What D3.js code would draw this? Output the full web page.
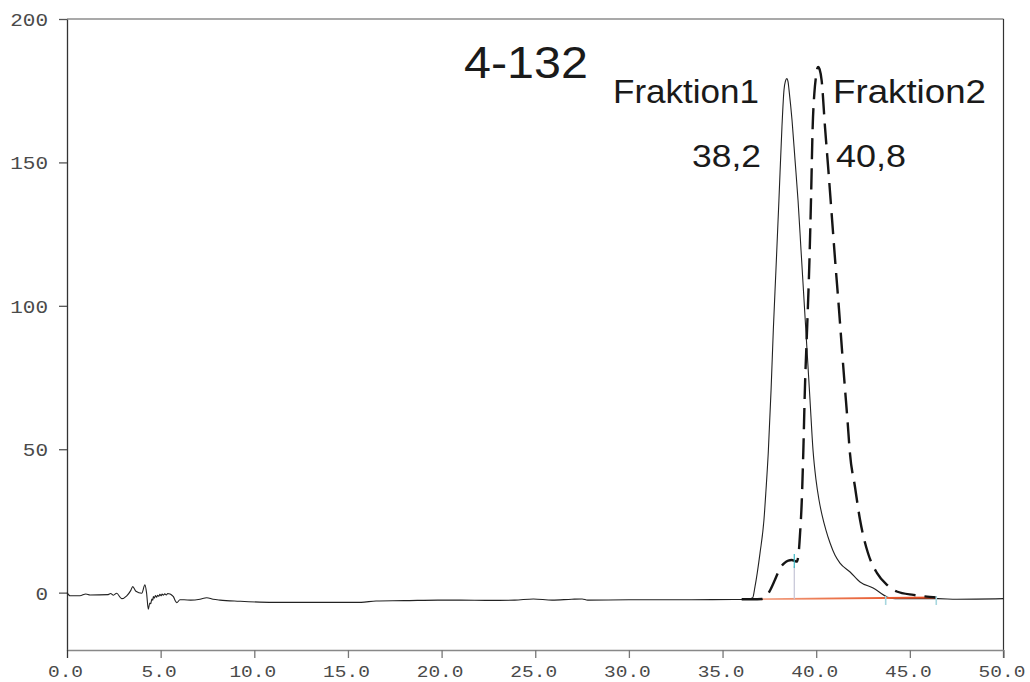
<!DOCTYPE html>
<html>
<head>
<meta charset="utf-8">
<script src="https://cdn.jsdelivr.net/npm/d3@7/dist/d3.min.js"></script>
<style>
  html, body { margin: 0; padding: 0; background: #fff; }
  svg { display: block; }
</style>
</head>
<body>
<svg id="chart" width="1030" height="682"></svg>
<script>
// Retention time axis (min) and detector signal axis
const xTicks = [0, 5, 10, 15, 20, 25, 30, 35, 40, 45, 50];
const yTicks = [0, 50, 100, 150, 200];

// Fraktion 1 (solid trace)
const f1Time = [0, 0.16, 0.69, 1.01, 1.23, 2.2, 2.33, 2.48, 2.65, 2.92, 3.19, 3.4, 3.51, 3.68, 3.99, 4.16, 4.25, 4.34,
  4.42, 4.47, 4.53, 4.58, 4.61, 4.66, 4.72, 4.78, 4.84, 4.9, 4.96, 5.02, 5.08, 5.14, 5.22, 5.3, 5.38, 5.5, 5.6, 5.68,
  5.78, 5.86, 6.03, 6.25, 6.6, 7.1, 7.46, 7.8, 8.17, 9.2, 11, 13, 15.7, 16.5, 18, 19.8, 21, 22.5, 23.9, 24.9, 25.9,
  26.95, 27.5, 27.8, 30, 33, 35.9, 36.3, 36.61, 36.73, 37.0, 37.21, 37.32, 37.44, 37.59, 37.71, 37.85, 38.01, 38.17,
  38.28, 38.36, 38.43, 38.5, 38.55, 38.71, 38.87, 39.03, 39.19, 39.35, 39.51, 39.67, 39.83, 39.99, 40.15, 40.31, 40.52,
  40.74, 41.0, 41.27, 41.81, 42.34, 43.04, 43.78, 43.94, 44.5, 46.5, 47.5, 50];
const f1Signal = [0, -1.1, -1.1, -0.45, -0.8, -0.7, -0.3, -0.9, -0.2, -2.1, -1.1, 0.7, 2.1, 0.5, -0.2, 2.7, -0.2, -5.8,
  -3.6, -3.9, -2.2, -2.6, -1.4, -1.9, -1.0, -1.6, -0.9, -1.3, -0.6, -1.1, -0.5, -0.9, -0.4, -0.8, -0.3, -0.5, -0.9, -1.4,
  -2.8, -3.5, -2.5, -2.5, -2.6, -2.3, -1.8, -2.3, -2.6, -3.0, -3.4, -3.4, -3.4, -2.9, -2.8, -2.6, -2.6, -2.7, -2.6, -2.2, -2.6,
  -2.3, -2.2, -2.6, -2.5, -2.5, -2.4, -2.4, -1.8, 2.0, 13.8, 25.3, 35.8, 48.7, 70.6, 91.5, 112.4, 136.8, 162.2,
  175.2, 178.4, 179.2, 178.0, 175.2, 164.7, 150.8, 136.8, 119.4, 102, 84.6, 67.1, 49.7, 39.3, 32.3, 27.1, 21.8,
  17.3, 13.1, 10.3, 7.2, 3.7, 1.6, -1.5, -1.9, -2.1, -2.1, -2.3, -2.1];

// Fraktion 2 (dashed trace)
const f2Time = [36.02, 36.6, 37.1, 37.3, 37.5, 37.8, 38.07, 38.3, 38.51, 38.69, 38.85, 38.96, 39.05, 39.14, 39.23,
  39.31, 39.4, 39.52, 39.64, 39.73, 39.81, 39.9, 39.98, 40.06, 40.11, 40.18, 40.29, 40.47, 40.65, 40.81, 41.01,
  41.22, 41.39, 41.53, 41.67, 41.8, 42.07, 42.34, 42.76, 43.24, 43.78, 44.3, 45.19, 45.8, 46.44];
const f2Signal = [-2.3, -2.3, -2.2, -1.5, 0.35, 4.5, 8.5, 10.3, 11.2, 11.4, 11.1, 10.8, 13, 20.8, 32,
  48.7, 71.8, 93, 116, 139, 162, 174, 179.5, 182.8, 183.3, 182.5, 178.6, 162.3, 147.3, 133.4, 115.9,
  98.5, 83.5, 71.7, 60.2, 48.7, 36.9, 25.4, 13.9, 6.9, 2.7, 0.4, -0.8, -1.3, -1.7];

// Integration baseline and peak-boundary markers
const baseTime = [37.05, 46.41];
const baseSignal = [-2.3, -1.7];
const splitMarker = { t: 38.83, top: 13.5, bottom: -2.3 };
const endMarkers = [43.71, 46.41];

// Annotations
const sampleLabel = "4-132";
const fractionNames = ["Fraktion1", "Fraktion2"];
const fractionTimes = ["38,2", "40,8"];

const svg = d3.select("#chart");
const x = d3.scaleLinear().domain([0, 50]).range([67, 1003.5]);
const y = d3.scaleLinear().domain([-20, 200]).range([650, 19]);

// Frame: top and right border
svg.append("line").attr("x1", x(0)).attr("x2", x(50)).attr("y1", y(200)).attr("y2", y(200))
  .attr("stroke", "#555").attr("stroke-width", 1.2);
svg.append("line").attr("x1", x(50)).attr("x2", x(50)).attr("y1", y(200)).attr("y2", y(-20) + 8)
  .attr("stroke", "#333").attr("stroke-width", 1.2);

// Y axis
const yAxis = svg.append("g").attr("transform", `translate(${x(0)},0)`)
  .call(d3.axisLeft(y).tickValues(yTicks).tickSize(8).tickPadding(11).tickSizeOuter(0));
yAxis.select(".domain").attr("stroke", "#333").attr("stroke-width", 1.3);
yAxis.selectAll(".tick line").attr("stroke", "#555").attr("stroke-width", 1.3);
yAxis.selectAll(".tick text")
  .attr("font-family", "'Liberation Mono', monospace").attr("font-size", 18).attr("fill", "#4a4a4a")
  .attr("dy", "0.36em")
  .attr("textLength", d => String(d).length * 12.6).attr("lengthAdjust", "spacingAndGlyphs");

// X axis
const xAxis = svg.append("g").attr("transform", `translate(0,${y(-20)})`)
  .call(d3.axisBottom(x).tickValues(xTicks).tickFormat(d3.format(".1f")).tickSize(8).tickSizeOuter(0));
xAxis.select(".domain").attr("stroke", "#888").attr("stroke-width", 1.6);
xAxis.selectAll(".tick line").attr("stroke", "#777").attr("stroke-width", 1.3);
xAxis.selectAll(".tick text")
  .attr("font-family", "'Liberation Mono', monospace").attr("font-size", 17).attr("fill", "#4a4a4a")
  .attr("y", 27).attr("dy", 0).attr("x", -2)
  .attr("textLength", d => d3.format(".1f")(d).length * 11.7).attr("lengthAdjust", "spacingAndGlyphs");
xAxis.select(".tick line").attr("stroke", "#333");

const line = d3.line().x(d => x(d[0])).y(d => y(d[1])).curve(d3.curveMonotoneX);

// Fraktion 1 trace
const f1 = f1Time.map((t, i) => [t, f1Signal[i]]);
svg.append("path").datum(f1)
  .attr("d", line)
  .attr("fill", "none").attr("stroke", "#222").attr("stroke-width", 1.1);

// Integration baseline
const grad = svg.append("defs").append("linearGradient").attr("id", "baseGrad")
  .attr("gradientUnits", "userSpaceOnUse")
  .attr("x1", x(baseTime[0])).attr("x2", x(baseTime[1])).attr("y1", 0).attr("y2", 0);
grad.append("stop").attr("offset", 0).attr("stop-color", "#f3a88e");
grad.append("stop").attr("offset", 0.35).attr("stop-color", "#ec7a52");
grad.append("stop").attr("offset", 1).attr("stop-color", "#e4461a");
svg.append("line")
  .attr("x1", x(baseTime[0])).attr("y1", y(baseSignal[0]))
  .attr("x2", x(baseTime[1])).attr("y2", y(baseSignal[1]))
  .attr("stroke", "url(#baseGrad)").attr("stroke-width", 1.8);

// Fraktion 2 trace
const f2 = f2Time.map((t, i) => [t, f2Signal[i]]);
svg.append("path").datum(f2)
  .attr("d", line)
  .attr("fill", "none").attr("stroke", "#151515").attr("stroke-width", 2.4)
  .attr("stroke-dasharray", "21,9");

// Peak boundary markers
svg.append("line")
  .attr("x1", x(splitMarker.t)).attr("x2", x(splitMarker.t))
  .attr("y1", y(splitMarker.top) + 12).attr("y2", y(splitMarker.bottom))
  .attr("stroke", "#c4c4d6").attr("stroke-width", 1.2);
svg.append("line")
  .attr("x1", x(splitMarker.t)).attr("x2", x(splitMarker.t))
  .attr("y1", y(splitMarker.top)).attr("y2", y(splitMarker.top) + 14)
  .attr("stroke", "#3cb8c4").attr("stroke-width", 1.2);
svg.selectAll(".endMarker").data(endMarkers).enter().append("line")
  .attr("class", "endMarker")
  .attr("x1", d => x(d)).attr("x2", d => x(d))
  .attr("y1", y(-1.2)).attr("y2", y(-4.3))
  .attr("stroke", "#a6d6de").attr("stroke-width", 1.6);

// Annotations
const txt = (s, px, py, size, len) => svg.append("text")
  .attr("x", px).attr("y", py).text(s)
  .attr("font-family", "'Liberation Sans', Arial, sans-serif").attr("font-size", size)
  .attr("fill", "#1a1a1a").attr("textLength", len).attr("lengthAdjust", "spacingAndGlyphs");
txt(sampleLabel, 464, 78, 45, 124);
txt(fractionNames[0], 613, 103, 33, 146);
txt(fractionNames[1], 833, 103, 33, 153);
txt(fractionTimes[0], 692, 167, 32, 69);
txt(fractionTimes[1], 836, 167, 32, 70);
</script>
</body>
</html>
